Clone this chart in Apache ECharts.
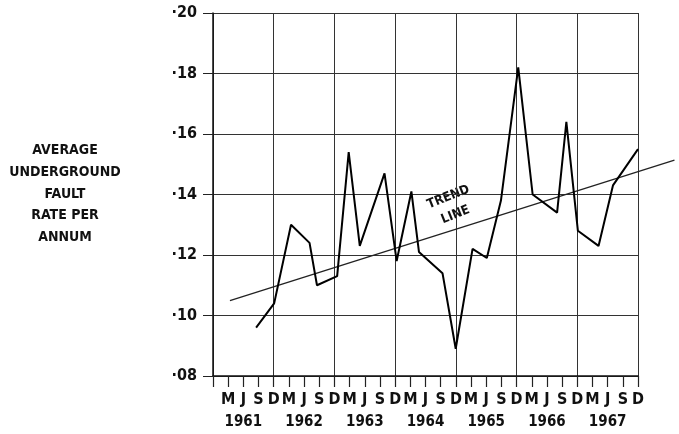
<!DOCTYPE html>
<html>
<head>
<meta charset="utf-8">
<script src="https://cdn.jsdelivr.net/npm/echarts@6/dist/echarts.min.js"></script>
<style>
  html, body { margin: 0; padding: 0; background: #fff; }
  #chart { width: 679px; height: 434px; }
</style>
</head>
<body>
<div id="chart"></div>
<script>
// quarter letters along the bottom (index 0 = Dec 1960, the y axis)
var quarterLabels = ['',
  'M', 'J', 'S', 'D', 'M', 'J', 'S', 'D', 'M', 'J', 'S', 'D', 'M', 'J', 'S', 'D',
  'M', 'J', 'S', 'D', 'M', 'J', 'S', 'D', 'M', 'J', 'S', 'D'];
var yearLabels = ['1961', '1962', '1963', '1964', '1965', '1966', '1967'];
var yTicks = [0.08, 0.10, 0.12, 0.14, 0.16, 0.18, 0.20];

// fault rate readings: position in quarters from Dec 1960, and rate
var faultPos = [2.84, 4.03, 5.14, 6.36, 6.85, 8.18, 8.94, 9.67, 11.30, 12.10, 13.07, 13.57, 15.12,
  15.99, 17.10, 18.04, 18.97, 20.11, 21.06, 22.67, 23.28, 24.04, 25.40, 26.35, 28.0];
var faultRate = [0.096, 0.104, 0.130, 0.124, 0.110, 0.113, 0.154, 0.123, 0.147, 0.118, 0.141, 0.121, 0.114,
  0.089, 0.122, 0.119, 0.138, 0.182, 0.140, 0.134, 0.164, 0.128, 0.123, 0.143, 0.155];

// trend line end points (runs past the last quarter)
var trendPos = [1.12, 30.5];
var trendRate = [0.1049, 0.1514];

var chart = echarts.init(document.getElementById('chart'));

var fontFam = '"DejaVu Sans Condensed", "DejaVu Sans", sans-serif';
var yMin = yTicks[0], yMax = yTicks[yTicks.length - 1];

chart.setOption({
  animation: false,
  backgroundColor: '#fff',
  grid: [
    { left: 213, top: 13, right: 41, bottom: 58 },
    // wider twin grid so the trend line can run past the frame (same scale)
    { left: 213, top: 13, right: 0, bottom: 58 }
  ],
  xAxis: [{
    type: 'value',
    gridIndex: 0,
    min: 0,
    max: 28,
    interval: 1,
    axisLine: { lineStyle: { color: '#111', width: 1.5 } },
    axisTick: { length: 11, lineStyle: { color: '#222', width: 1.2 } },
    splitLine: { show: false },
    axisLabel: {
      margin: 14,
      formatter: function (val) {
        var i = Math.round(val);
        var s = '{m|' + (quarterLabels[i] || ' ') + '}';
        if (i % 4 === 2) {
          s += '\n{y|' + yearLabels[(i - 2) / 4] + '}';
        } else {
          s += '\n{y| }';
        }
        return s;
      },
      rich: {
        m: { fontFamily: fontFam, fontWeight: 'bold', fontSize: 16, lineHeight: 20, color: '#111' },
        y: { fontFamily: fontFam, fontWeight: 'bold', fontSize: 15, lineHeight: 24, color: '#111' }
      }
    }
  }, {
    // only for the yearly vertical grid lines
    type: 'value',
    gridIndex: 0,
    position: 'bottom',
    min: 0,
    max: 28,
    interval: 4,
    axisLine: { show: false },
    axisTick: { show: false },
    axisLabel: { show: false },
    splitLine: { show: true, lineStyle: { color: '#333', width: 1 } }
  }, {
    type: 'value',
    gridIndex: 1,
    min: 0,
    max: 466 / 15.13,
    show: false
  }],
  yAxis: [{
    type: 'value',
    gridIndex: 0,
    min: yMin,
    max: yMax,
    interval: 0.02,
    axisLine: { show: true, lineStyle: { color: '#111', width: 1.5 } },
    axisTick: { show: true, length: 10, lineStyle: { color: '#222' } },
    splitLine: { show: true, lineStyle: { color: '#333', width: 1 } },
    axisLabel: {
      margin: 16,
      fontFamily: fontFam,
      fontWeight: 'bold',
      fontSize: 16,
      color: '#111',
      formatter: function (v) {
        return '\u00b7' + v.toFixed(2).slice(2);
      }
    }
  }, {
    type: 'value',
    gridIndex: 1,
    min: yMin,
    max: yMax,
    show: false
  }],
  graphic: [{
    type: 'text',
    x: 65,
    y: 140,
    style: {
      text: 'AVERAGE\nUNDERGROUND\nFAULT\nRATE PER\nANNUM',
      fontFamily: fontFam,
      fontWeight: 'bold',
      fontSize: 14,
      lineHeight: 21.6,
      fill: '#111',
      align: 'center',
      verticalAlign: 'top'
    }
  }, {
    type: 'text',
    x: 452,
    y: 206,
    rotation: 0.38,
    style: {
      text: 'TREND\nLINE',
      fontFamily: fontFam,
      fontWeight: 'bold',
      fontSize: 13,
      lineHeight: 19,
      fill: '#111',
      align: 'center',
      verticalAlign: 'middle'
    }
  }],
  series: [{
    name: 'trend',
    type: 'line',
    xAxisIndex: 2,
    yAxisIndex: 1,
    symbol: 'none',
    data: trendPos.map(function (p, i) { return [p, trendRate[i]]; }),
    lineStyle: { color: '#222', width: 1.3 }
  }, {
    name: 'fault rate',
    type: 'line',
    xAxisIndex: 0,
    yAxisIndex: 0,
    symbol: 'none',
    data: faultPos.map(function (p, i) { return [p, faultRate[i]]; }),
    lineStyle: { color: '#000', width: 2 }
  }]
});
</script>
</body>
</html>
